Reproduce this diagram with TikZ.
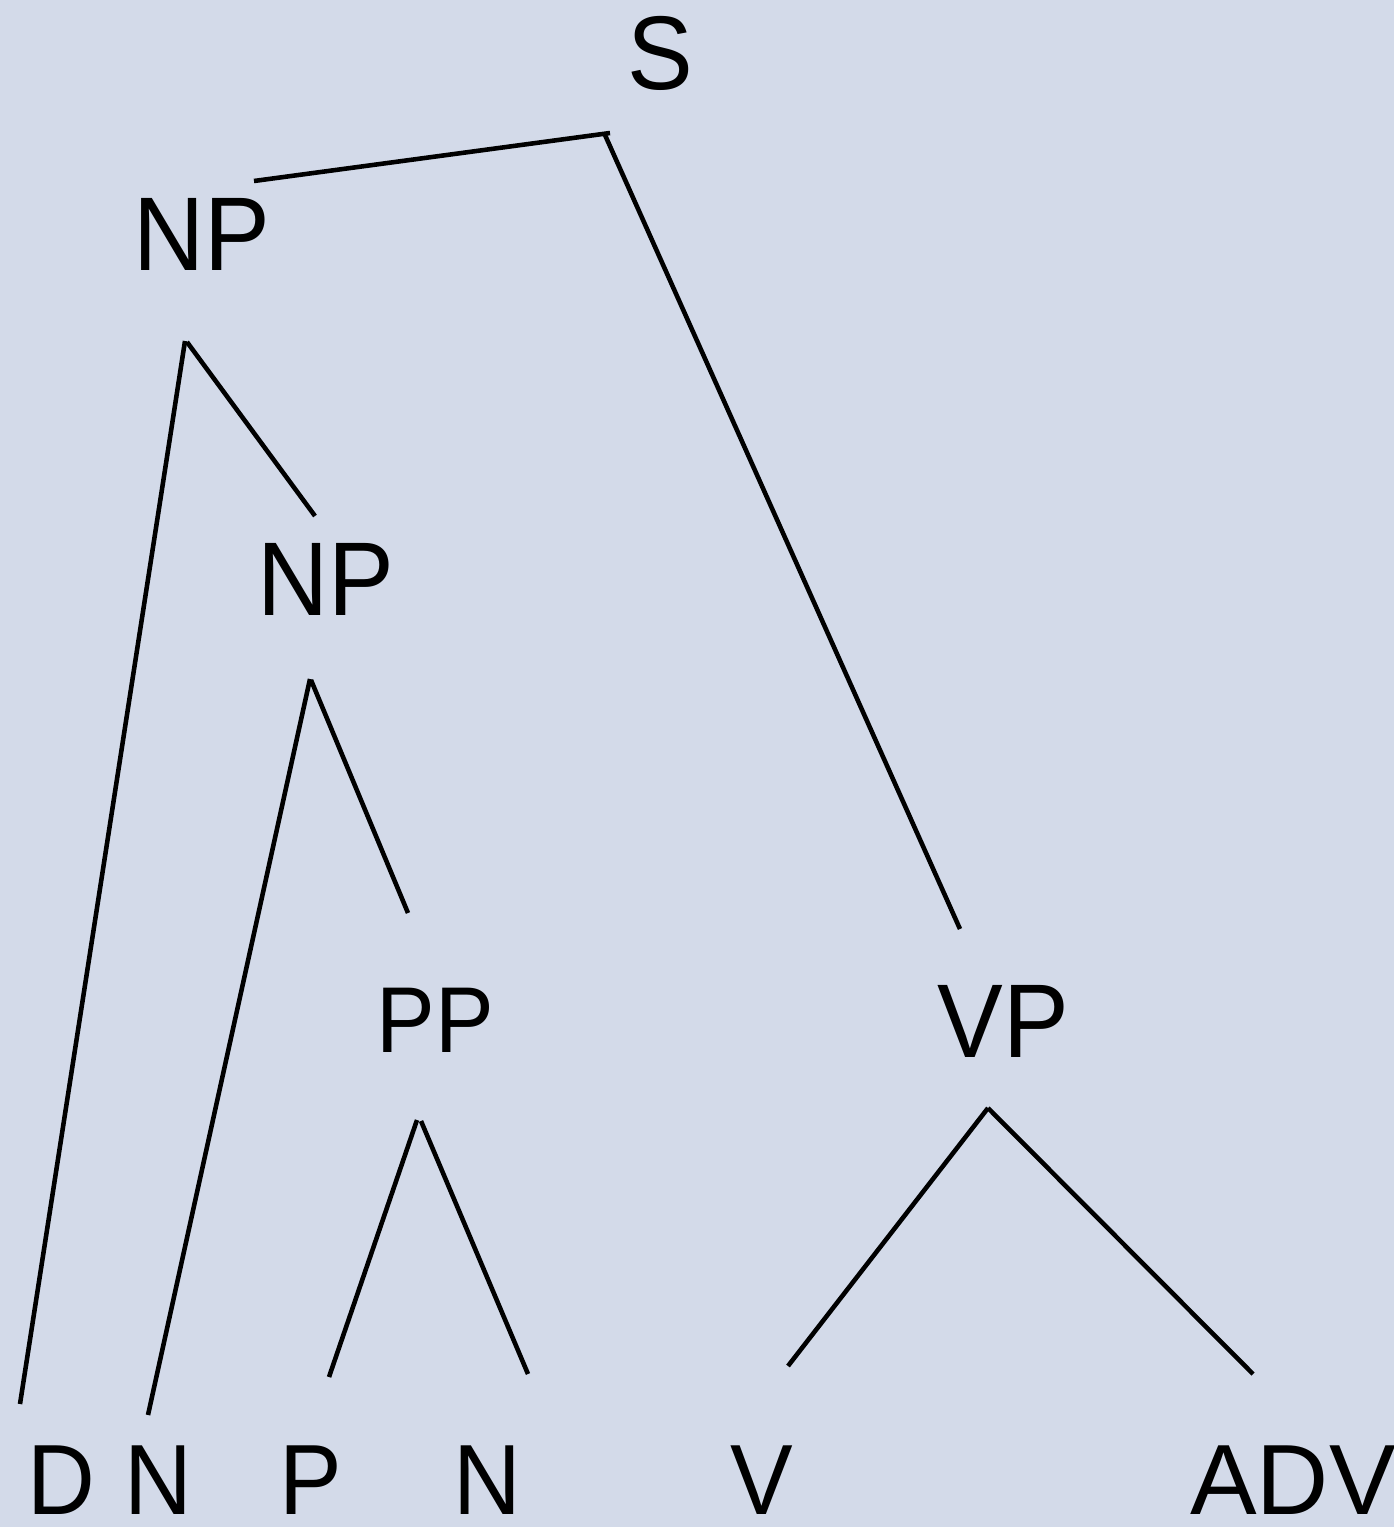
\documentclass[tikz,border=0pt]{standalone}
\usepackage{fontspec}
\usepackage{xcolor}
\usepackage{tikz}
\newfontfamily\treefont{Liberation Sans}[FakeStretch=0.94]
\newfontfamily\widefont{Liberation Sans}
\definecolor{treebg}{RGB}{211,218,233}

\begin{document}
\begin{tikzpicture}[
    x=0.01cm, y=-0.01cm,
    cat/.style={font=\treefont\fontsize{29.8}{36}\selectfont, inner sep=0pt, anchor=base},
    smallcat/.style={font=\treefont\fontsize{26.6}{32}\selectfont, inner sep=0pt, anchor=base},
    leaf/.style={font=\treefont\fontsize{28.4}{34}\selectfont, inner sep=0pt, anchor=base},
    wideleaf/.style={font=\widefont\fontsize{28.4}{34}\selectfont, inner sep=0pt, anchor=base},
    branch/.style={line width=1.3pt, black}
]

\fill[treebg] (0,0) rectangle (1394,1527);
\useasboundingbox (0,0) rectangle (1394,1527);

% categories
\node[cat] (S) at (660,90) {S};
\node[cat] (NPa) at (202,270) {NP};
\node[cat] (NPb) at (326,615) {NP};
\node[smallcat] (PP) at (435,1052) {PP};
\node[cat] (VP) at (1003,1057) {VP};

% words
\node[leaf] (D) at (61,1514) {D};
\node[leaf] (Na) at (158,1514) {N};
\node[leaf] (P) at (311,1514) {P};
\node[leaf] (Nb) at (487,1514) {N};
\node[leaf] (V) at (762,1514) {V};
\node[wideleaf] (ADV) at (1293,1514) {ADV};

% branch ends
\coordinate (S-l) at (610,133);
\coordinate (S-r) at (605,135);
\coordinate (NPa-up) at (254,181);
\coordinate (NPa-l) at (185,341);
\coordinate (NPa-r) at (187,342);
\coordinate (NPb-up) at (315,516);
\coordinate (NPb-l) at (310,679);
\coordinate (NPb-r) at (311,680);
\coordinate (PP-up) at (408,913);
\coordinate (PP-l) at (417,1120);
\coordinate (PP-r) at (421,1121);
\coordinate (VP-up) at (960,929);
\coordinate (VP-lo) at (988,1108);
\coordinate (D-up) at (20,1404);
\coordinate (Na-up) at (148,1415);
\coordinate (P-up) at (329,1377);
\coordinate (Nb-up) at (528,1374);
\coordinate (V-up) at (788,1366);
\coordinate (ADV-up) at (1253,1374);

\draw[branch] (S-l) -- (NPa-up);
\draw[branch] (S-r) -- (VP-up);
\draw[branch] (NPa-l) -- (D-up);
\draw[branch] (NPa-r) -- (NPb-up);
\draw[branch] (NPb-l) -- (Na-up);
\draw[branch] (NPb-r) -- (PP-up);
\draw[branch] (PP-l) -- (P-up);
\draw[branch] (PP-r) -- (Nb-up);
\draw[branch] (VP-lo) -- (V-up);
\draw[branch] (VP-lo) -- (ADV-up);

\end{tikzpicture}
\end{document}
